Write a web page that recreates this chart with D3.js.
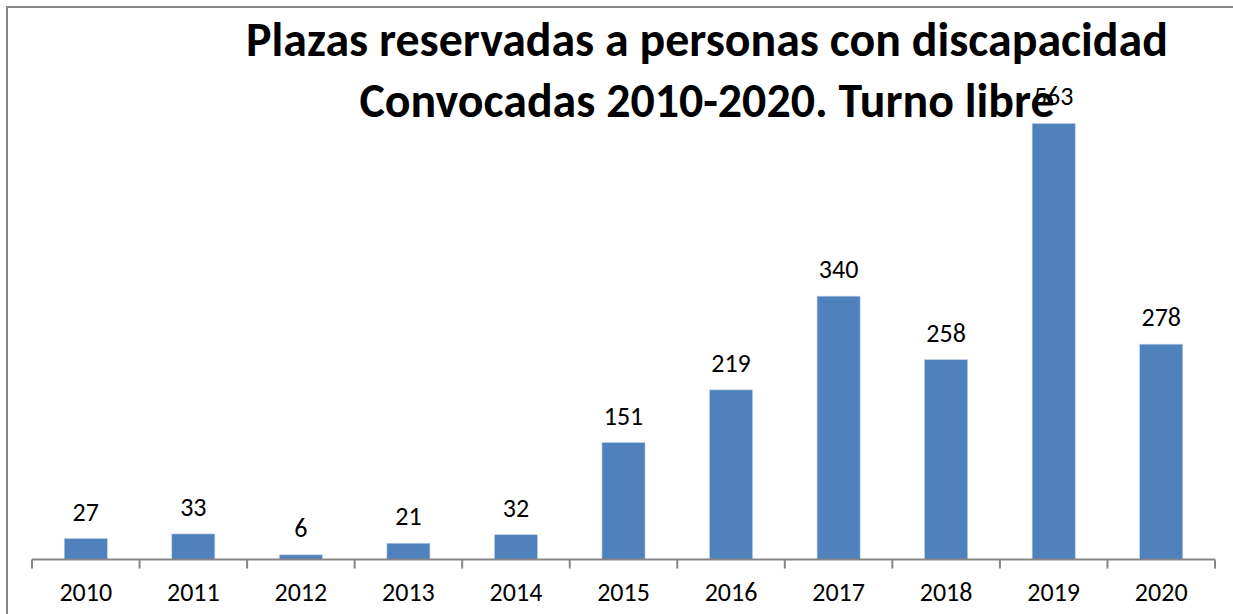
<!DOCTYPE html>
<html>
<head>
<meta charset="utf-8">
<script src="https://cdn.jsdelivr.net/npm/d3@7"></script>
<style>
  body { margin: 0; background: #fff; }
  svg { display: block; font-family: Carlito, Calibri, Lato, sans-serif; }
</style>
</head>
<body>
<svg id="chart" width="1233" height="614"></svg>
<script>
// data
const years = ["2010", "2011", "2012", "2013", "2014", "2015", "2016", "2017", "2018", "2019", "2020"];
const plazas = [27, 33, 6, 21, 32, 151, 219, 340, 258, 563, 278];
const titleLines = ["Plazas reservadas a personas con discapacidad", "Convocadas 2010-2020. Turno libre"];

const svg = d3.select("#chart");

// chart frame, runs off the right and bottom edges
svg.append("rect")
    .attr("x", 7).attr("y", 7)
    .attr("width", 1240).attr("height", 620)
    .attr("fill", "#fff")
    .attr("stroke", "#868686")
    .attr("stroke-width", 2);

const left = 32, right = 1215, baseY = 559.5;

const x = d3.scaleBand()
    .domain(years)
    .range([left, right])
    .paddingInner(0.6)
    .paddingOuter(0.3);

const y = d3.scaleLinear()
    .domain([0, 600])
    .range([baseY, baseY - 600 * 0.7745]);

// bars
svg.append("g").selectAll("rect")
    .data(plazas)
    .join("rect")
    .attr("x", (d, i) => x(years[i]))
    .attr("y", d => y(d))
    .attr("width", x.bandwidth())
    .attr("height", d => baseY - y(d))
    .attr("fill", "#4F81BD")
    .attr("stroke", "#B9CDE5")
    .attr("stroke-width", 0.6);

// x axis: category ticks sit on the band edges
const xAxis = svg.append("g");
xAxis.append("line")
    .attr("x1", left).attr("x2", right)
    .attr("y1", baseY).attr("y2", baseY)
    .attr("stroke", "#868686").attr("stroke-width", 2);

const edges = years.map(yr => x(yr) - x.step() * x.paddingInner() / 2);
edges.push(right);
xAxis.selectAll(".tk")
    .data(edges)
    .join("line")
    .attr("class", "tk")
    .attr("x1", d => d).attr("x2", d => d)
    .attr("y1", baseY).attr("y2", baseY + 9)
    .attr("stroke", "#868686").attr("stroke-width", 2);

xAxis.selectAll("text")
    .data(years)
    .join("text")
    .attr("x", d => x(d) + x.bandwidth() / 2)
    .attr("y", 601)
    .attr("text-anchor", "middle")
    .attr("font-size", 26)
    .attr("fill", "#000")
    .text(d => d);

// value labels
svg.append("g").selectAll("text")
    .data(plazas)
    .join("text")
    .attr("x", (d, i) => x(years[i]) + x.bandwidth() / 2)
    .attr("y", d => y(d) - 18)
    .attr("text-anchor", "middle")
    .attr("font-size", 26)
    .attr("fill", "#000")
    .text(d => d);

// title, sized to the width in the picture
const title = svg.append("g");
const t1 = title.append("text")
    .attr("x", 707).attr("y", 56)
    .attr("text-anchor", "middle")
    .attr("font-weight", "bold")
    .attr("font-size", 40)
    .text(titleLines[0]);
const fs = 40 * 922 / t1.node().getComputedTextLength();
t1.attr("font-size", fs);
title.append("text")
    .attr("x", 707).attr("y", 117)
    .attr("text-anchor", "middle")
    .attr("font-weight", "bold")
    .attr("font-size", fs)
    .text(titleLines[1]);
</script>
</body>
</html>
